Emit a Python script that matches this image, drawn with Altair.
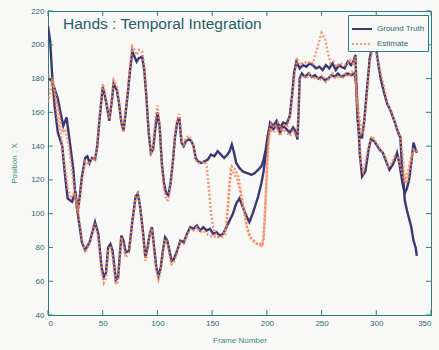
import altair as alt
import pandas as pd

# Ground truth, hand A
gt_a_frame = [0, 2, 4, 6, 9, 13, 15.5, 18, 22, 25, 27, 31, 34, 38, 41, 43, 46, 49, 51, 53, 55, 57, 59, 62, 64, 67, 69, 71, 74, 77, 80, 82, 84, 87, 89, 91, 93, 95, 97, 99, 101, 103, 105, 107, 109, 111, 113, 115, 118, 121, 124, 127, 130, 133, 136, 139, 142, 145, 148, 151, 154, 157, 160, 163, 166, 169, 172, 175, 178, 181, 184, 187, 190, 192, 195, 197, 199, 201, 203, 206, 209, 212, 215, 218, 221, 223, 225, 227, 230, 233, 236, 239, 242, 245, 248, 251, 254, 257, 260, 263, 266, 268, 271, 274, 277, 279, 281, 282, 283, 285, 287, 289, 291, 294, 297, 300, 302, 304, 307, 310, 313, 317, 320, 322, 323.5, 325, 326, 328, 330, 332, 334, 336, 337]
gt_a_value = [211, 202, 180, 164, 148, 140, 123, 109, 107, 113, 101, 83, 78.5, 83, 90, 95, 88, 68, 62.5, 65, 80, 82, 78, 60.7, 62, 87, 84, 77, 78, 95, 110, 112, 105, 88, 74, 80, 88, 92, 80, 68, 63, 68, 78, 86, 84, 78, 72, 73, 78, 84, 83, 88, 92, 91, 93, 90, 92, 90, 91, 88, 89, 87, 88, 92, 96, 100, 106, 109, 104, 99, 95, 100, 106, 110, 118, 125, 135, 145, 154, 152, 155, 151, 154, 153, 158, 170, 184, 190, 186, 188, 187, 189, 188, 186, 187, 185, 188, 186, 189, 185, 188, 187, 186, 190, 188, 190, 194, 170, 155, 145, 145, 155, 170, 192, 201, 197, 188, 180, 172, 165, 161, 154, 148, 145, 128, 118, 108, 102, 97, 92, 84, 80, 75]

# Ground truth, hand B
gt_b_frame = [0, 3, 6, 9, 12, 14, 17, 20, 23, 25, 27, 29, 31, 34, 36, 38, 40, 43, 45, 47, 50, 52, 54, 56, 58, 60, 63, 65, 67, 69, 71, 73, 75, 77, 79, 81, 83, 86, 88, 90, 92, 94, 96, 98, 100, 102, 104, 106, 108, 110, 112, 114, 116, 118, 120, 122, 124, 126, 129, 131, 133, 135, 137, 140, 143, 146, 149, 152, 155, 158, 161, 164, 166, 168, 170, 172, 175, 178, 182, 186, 189, 192, 195, 197, 199, 201, 203, 206, 209, 212, 215, 218, 221, 224, 226, 228, 229, 230, 232, 235, 238, 241, 244, 247, 250, 253, 256, 259, 262, 265, 268, 271, 274, 277, 280, 282, 283, 285, 287, 290, 293, 295, 298, 300, 303, 306, 309, 312, 315, 317, 319, 321, 322.5, 324, 326, 328, 330, 332, 334, 335, 337]
gt_b_value = [180, 179, 174, 168, 158, 152, 157, 142, 127, 111, 101, 110, 122, 133, 134, 130, 133, 132, 140, 155, 175, 170, 163, 155, 165, 177, 173, 165, 154, 149, 160, 172, 185, 196, 193, 190, 192, 193, 185, 168, 148, 136, 138, 150, 160, 152, 130, 118, 112, 111, 118, 130, 145, 154, 157, 142, 140, 143, 144, 143, 140, 133, 131, 130, 131, 132, 135, 134, 137, 135, 133, 135, 137, 141, 136, 130, 127, 125, 124, 123, 124, 126, 128, 132, 138, 147, 152, 150, 153, 148, 152, 150, 148, 151, 149, 144, 160, 180, 183, 181, 183, 181, 182, 180, 181, 179, 180, 182, 181, 183, 181, 182, 183, 182, 183, 175, 160, 135, 122, 125, 138, 144, 143, 141, 138, 136, 131, 126, 129, 132, 136, 130, 124, 118, 112, 115, 120, 130, 142, 140, 136]

# Estimate, hand A
est_a_frame = [0, 3, 6, 9, 12, 15, 18, 21, 24, 27, 31, 34, 38, 41, 43, 46, 49, 51, 53, 55, 57, 59, 62, 64, 67, 69, 71, 74, 77, 80, 82, 84, 87, 89, 91, 93, 95, 97, 99, 101, 103, 105, 107, 109, 111, 113, 115, 118, 121, 124, 127, 130, 133, 136, 139, 142, 145, 148, 151, 154, 157, 160, 163, 165, 167, 170, 173, 176, 179, 182, 185, 188, 191, 194, 196, 198, 200, 202, 204, 207, 210, 213, 216, 219, 222, 224, 226, 228, 231, 234, 237, 240, 242, 246, 250, 253, 256, 258, 261, 264, 267, 270, 273, 276, 279, 281, 282, 284, 286, 288, 290, 292, 294, 297, 300, 303, 306, 310, 314, 318, 322, 324, 326, 328, 331, 334, 337]
est_a_value = [182, 181, 172, 155, 145, 130, 115, 110, 112, 104, 85, 77, 82, 89, 94, 86, 65, 59, 62, 78, 81, 75, 58, 60, 86, 82, 74, 77, 94, 110, 112, 104, 87, 72, 78, 88, 91, 78, 66, 61, 66, 77, 85, 83, 76, 70, 71, 77, 83, 82, 87, 91, 90, 92, 89, 90, 88, 87, 86, 87, 86, 87, 92, 110, 126, 124, 120, 112, 102, 92, 86, 84, 82, 82, 81, 95, 125, 148, 153, 151, 154, 150, 153, 152, 160, 174, 186, 191, 188, 190, 189, 190, 189, 198, 207, 204, 195, 189, 190, 187, 189, 188, 188, 191, 189, 193, 168, 160, 150, 148, 160, 175, 190, 199, 195, 186, 178, 166, 160, 152, 146, 135, 120, 118, 128, 138, 137]

# Estimate, hand B
est_b_frame = [0, 2, 4, 7, 10, 13, 16, 19, 22, 25, 27, 29, 31, 34, 37, 40, 43, 45, 47, 50, 52, 54, 56, 58, 60, 63, 65, 67, 69, 71, 73, 75, 77, 79, 81, 83, 86, 88, 90, 92, 94, 96, 98, 100, 102, 104, 106, 108, 110, 112, 114, 116, 118, 120, 122, 124, 126, 129, 131, 133, 135, 137, 140, 143, 145, 147, 149, 151, 153, 156, 159, 162, 164, 166, 168, 171, 174, 177, 180, 183, 186, 189, 192, 195, 197, 199, 201, 203, 206, 209, 212, 215, 218, 221, 224, 226, 228, 229, 230, 233, 236, 239, 242, 245, 248, 251, 254, 257, 260, 263, 266, 269, 272, 275, 278, 280, 282, 284, 286, 288, 290, 293, 296, 299, 302, 305, 308, 311, 314, 317, 320, 323, 326, 329, 332, 335, 338]
est_b_value = [166, 172, 180, 170, 160, 148, 150, 140, 125, 110, 100, 108, 120, 131, 129, 133, 132, 141, 157, 177, 172, 164, 156, 166, 179, 175, 166, 154, 148, 161, 174, 188, 199, 197, 194, 197, 196, 188, 170, 148, 134, 140, 155, 164, 153, 128, 115, 108, 108, 116, 130, 147, 156, 159, 143, 141, 145, 146, 144, 140, 132, 130, 130, 131, 128, 115, 100, 92, 88, 86, 86, 88, 100, 118, 128, 126, 122, 110, 98, 88, 85, 83, 82, 81, 84, 110, 140, 150, 148, 151, 146, 150, 148, 146, 149, 147, 146, 165, 180, 182, 180, 183, 180, 181, 179, 182, 178, 180, 183, 180, 182, 180, 183, 181, 184, 183, 172, 150, 130, 125, 130, 140, 146, 143, 140, 137, 134, 128, 130, 134, 133, 126, 118, 126, 134, 138, 137]

x_ticks = [0, 50, 100, 150, 200, 250, 300, 350]
y_ticks = [40, 60, 80, 100, 120, 140, 160, 180, 200, 220]

title_text = "Hands : Temporal Integration"
x_title = "Frame Number"
y_title = "Position : X"

TEAL = "#2a7f80"
LABEL = "#2d6a6c"
NAVY = "#3a3775"
ORANGE = "#f3875a"
BG = "#f8f8f6"
W, H = 383, 304

rows = []
for name, typ, fr, vals in [
    ("gt_a", "Ground Truth", gt_a_frame, gt_a_value),
    ("gt_b", "Ground Truth", gt_b_frame, gt_b_value),
    ("est_a", "Estimate", est_a_frame, est_a_value),
    ("est_b", "Estimate", est_b_frame, est_b_value),
]:
    for f, v in zip(fr, vals):
        rows.append({"frame": f, "value": v, "series": name, "type": typ})
df = pd.DataFrame(rows)

xscale = alt.Scale(domain=[0, 350], nice=False, zero=False)
yscale = alt.Scale(domain=[40, 220], nice=False, zero=False)
xaxis = alt.Axis(values=x_ticks, title=x_title, grid=False, labelOverlap=False, tickCount=8)
yaxis = alt.Axis(values=y_ticks, title=y_title, grid=False, labelOverlap=False, tickCount=10)

lines = alt.Chart(df).mark_line(strokeWidth=2.4, clip=True).encode(
    x=alt.X("frame:Q", scale=xscale, axis=xaxis),
    y=alt.Y("value:Q", scale=yscale, axis=yaxis),
    detail="series:N",
    color=alt.Color("type:N", scale=alt.Scale(domain=["Ground Truth", "Estimate"], range=[NAVY, ORANGE]),
                    legend=alt.Legend(title=None, orient="none", legendX=300, legendY=4,
                                      symbolType="stroke", symbolSize=400, symbolStrokeWidth=2,
                                      labelFontSize=8, labelColor=LABEL, strokeColor=TEAL,
                                      fillColor=BG, padding=3, rowPadding=0, labelOffset=4)),
    strokeDash=alt.StrokeDash("type:N", scale=alt.Scale(domain=["Ground Truth", "Estimate"], range=[[1, 0], [2, 2]]),
                              legend=None),
    opacity=alt.Opacity("type:N", scale=alt.Scale(domain=["Ground Truth", "Estimate"], range=[1, 0.85]),
                        legend=None),
    order=alt.Order("frame:Q"),
)

xt = pd.DataFrame({"t": x_ticks})
yt = pd.DataFrame({"t": y_ticks})
tick_b = alt.Chart(xt).mark_rule(color=TEAL, strokeWidth=1).encode(
    x=alt.X("t:Q", scale=xscale, axis=xaxis), y=alt.value(H), y2=alt.value(H - 5))
tick_t = alt.Chart(xt).mark_rule(color=TEAL, strokeWidth=1).encode(
    x=alt.X("t:Q", scale=xscale, axis=xaxis), y=alt.value(0), y2=alt.value(5))
tick_l = alt.Chart(yt).mark_rule(color=TEAL, strokeWidth=1).encode(
    y=alt.Y("t:Q", scale=yscale, axis=yaxis), x=alt.value(0), x2=alt.value(5))
tick_r = alt.Chart(yt).mark_rule(color=TEAL, strokeWidth=1).encode(
    y=alt.Y("t:Q", scale=yscale, axis=yaxis), x=alt.value(W), x2=alt.value(W - 5))

title = alt.Chart(pd.DataFrame({"t": [title_text]})).mark_text(
    align="left", baseline="alphabetic", fontSize=15.5, font="Liberation Sans", color="#245e64"
).encode(text="t:N", x=alt.value(15), y=alt.value(18))

chart = alt.layer(lines, tick_b, tick_t, tick_l, tick_r, title).properties(
    width=W, height=H,
    autosize=alt.AutoSizeParams(type="none"),
    padding={"left": 48, "top": 11, "right": 8, "bottom": 35},
    background=BG,
).configure_view(stroke=TEAL, strokeWidth=1).configure_axis(
    domainColor=TEAL, tickSize=0, labelFontSize=8, labelColor=LABEL, labelFont="Liberation Sans",
    titleFont="Liberation Sans", titleFontSize=8, titleFontWeight="normal", titleColor="#3a8a80",
    labelPadding=4, labelOverlap=False,
).configure_axisY(titlePadding=12).configure_axisX(titlePadding=9).configure_legend(
    labelFont="Liberation Sans"
)

chart.save("out.html", embed_options={"renderer": "svg", "actions": False})
